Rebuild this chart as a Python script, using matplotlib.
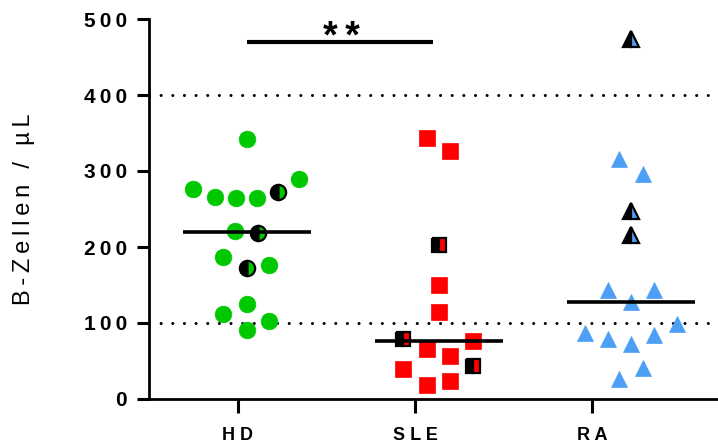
import numpy as np
import matplotlib.pyplot as plt
from matplotlib.ticker import FixedLocator, FixedFormatter

plt.rcParams['font.family'] = ['Liberation Sans', 'DejaVu Sans']

# === Daten: B-Zellen pro µL ===
groups = ['HD', 'SLE', 'RA']

hd_values = [342, 276, 266, 265, 265, 273, 290, 221, 218, 187, 172, 176, 125, 112, 103, 91]
hd_marked = [0, 0, 0, 0, 0, 1, 0, 0, 1, 0, 1, 0, 0, 0, 0, 0]

sle_values = [343, 326, 203, 150, 114, 79, 66, 76, 57, 44, 40, 24, 18]
sle_marked = [0, 0, 1, 0, 0, 1, 0, 0, 0, 1, 0, 0, 0]

ra_values = [474, 316, 296, 247, 216, 143, 143, 128, 99, 87, 79, 73, 84, 41, 26]
ra_marked = [1, 0, 0, 1, 1, 0, 0, 0, 0, 0, 0, 0, 0, 0, 0]

y_ticks = [0, 100, 200, 300, 400, 500]
ref_lines = [100, 400]
sig_label = '**'
sig_level = 470

# horizontale Streuung der Punkte (Beeswarm-Anordnung)
hd_jitter = [0, -0.28, -0.167, -0.057, 0.054, 0.163, 0.272, -0.0625, 0.056,
             -0.123, 0, 0.116, 0, -0.123, 0.116, 0]
sle_jitter = [-0.064, 0.057, 0, 0, 0, -0.186, -0.064, 0.175, 0.057, 0.175,
              -0.186, 0.057, -0.064]
ra_jitter = [0, -0.061, 0.061, 0, 0, -0.121, 0.121, 0, 0.24, -0.24, -0.121,
             0, 0.121, 0.061, -0.061]

green = '#00C800'
red = '#FF0000'
blue = '#4D9FF5'

series = [
    (hd_values, hd_marked, hd_jitter, 'o', green, 12),
    (sle_values, sle_marked, sle_jitter, 's', red, 11.5),
    (ra_values, ra_marked, ra_jitter, '^', blue, 12),
]

THIN = '\u2009'


def spaced(s, sep=THIN):
    # Sperrsatz: zwischen alle Zeichen einen schmalen Abstand setzen
    return sep.join(s)


fig = plt.figure(figsize=(7.18, 4.47), dpi=100)
ax = fig.add_axes([149/718, 48/447, 569/718, 380/447])

for i, (vals, marked, jit, m, col, ms) in enumerate(series):
    vals = np.array(vals)
    marked = np.array(marked, dtype=bool)
    xs = i + np.array(jit)
    ax.plot(xs[~marked], vals[~marked], ls='none', marker=m, ms=ms,
            mfc=col, mec=col, mew=0.5, zorder=3)
    ax.plot(xs[marked], vals[marked], ls='none', marker=m, ms=ms - 1,
            fillstyle='left', mfc='black', mfcalt=col, mec='black', mew=1.6, zorder=4)
    med = np.median(vals)
    ax.plot([i - 0.333, i + 0.333], [med, med], color='black', lw=2.6,
            solid_capstyle='butt', zorder=5)

for v in ref_lines:
    ax.axhline(v, color='black', lw=2.2, ls=(0, (0.01, 3.8)),
               dash_capstyle='round', zorder=1)

# Signifikanzbalken HD vs. SLE
ax.plot([0, 0.969], [sig_level, sig_level], color='black', lw=3,
        solid_capstyle='butt', clip_on=False)
ax.text(0.49, 462, spaced(sig_label), ha='center', va='baseline',
        fontsize=27, fontweight='bold')

ax.set_xlim(-0.51, 2.453)
ax.set_ylim(0, 500)

ax.yaxis.set_major_locator(FixedLocator(y_ticks))
ax.yaxis.set_major_formatter(FixedFormatter([spaced(str(t)) for t in y_ticks]))
ax.xaxis.set_major_locator(FixedLocator([-0.047, 0.875, 1.797]))
ax.xaxis.set_major_formatter(FixedFormatter([' '.join(g) for g in groups]))

for lab in ax.get_yticklabels():
    lab.set_fontsize(15)
    lab.set_fontweight('bold')
for lab in ax.get_xticklabels():
    lab.set_fontsize(13)
    lab.set_fontweight('bold')

ax.tick_params(axis='y', length=9, width=2.2, pad=7)
ax.tick_params(axis='x', length=10, width=2.2, pad=10.5)

for s in ['top', 'right']:
    ax.spines[s].set_visible(False)
for s in ['left', 'bottom']:
    ax.spines[s].set_linewidth(2)

ylabel = THIN + ' ' + THIN
ylabel = ylabel.join(spaced(w) for w in ['B-Zellen', '/', 'µL'])
ax.set_ylabel(ylabel, fontsize=17)
ax.yaxis.set_label_coords(-0.20, 0.5)

fig.savefig('out.png', dpi=100)
